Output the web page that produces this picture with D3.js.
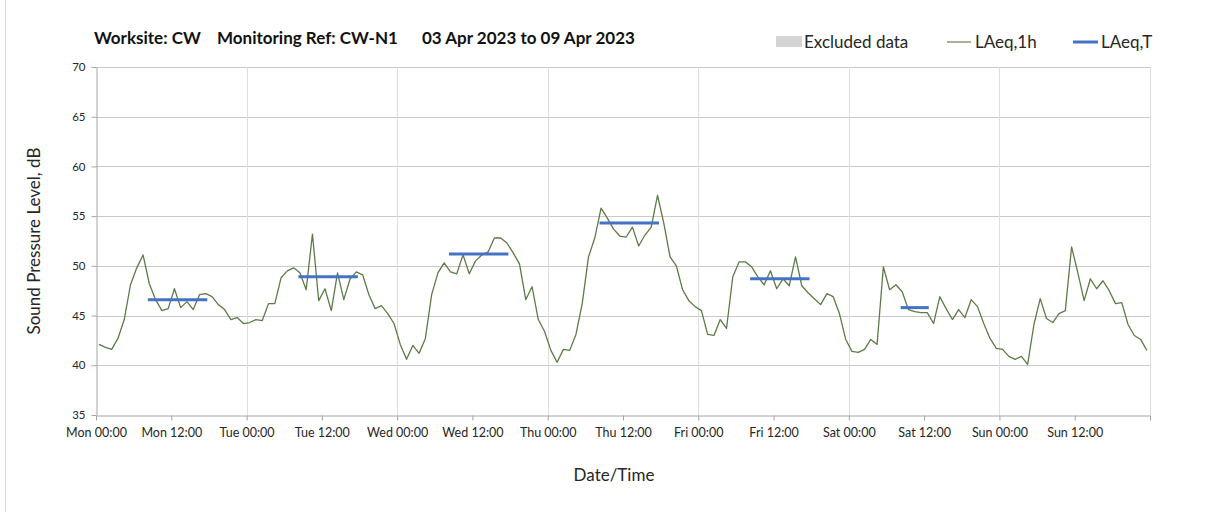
<!DOCTYPE html>
<html>
<head>
    <title></title>
    <script src="https://d3js.org/d3.v7.min.js"></script>
    <style type="text/css">
        html, body { margin: 0; padding: 0; background: #fff; }
        svg { display: block; font-family: Lato, "Open Sans", sans-serif; }
    </style>
</head>
<body>

    <svg id="main"></svg>

    <script>
      // settings
      const width  = 1208;
      const height = 512;
      const margin = {top: 67, right: 58, bottom: 97, left: 96};

      // data: hourly LAeq,1h from Mon 03 Apr 2023 00:00
      const startDate = new Date(2023, 3, 3, 0, 0);
      const endDate   = new Date(2023, 3, 10, 0, 0);
      const laeq1h = [
        42.1, 41.8, 41.6, 42.7, 44.6, 48.1, 49.8, 51.1, 48.2, 46.6, 45.5, 45.7,
        47.7, 45.8, 46.4, 45.6, 47.1, 47.2, 46.9, 46.1, 45.6, 44.6, 44.8, 44.2,
        44.3, 44.6, 44.5, 46.2, 46.2, 48.8, 49.5, 49.8, 49.3, 47.6, 53.2, 46.5,
        47.7, 45.5, 49.3, 46.6, 48.7, 49.4, 49.1, 47.1, 45.7, 46.0, 45.2, 44.2,
        42.1, 40.6, 42.0, 41.2, 42.7, 47.1, 49.3, 50.3, 49.4, 49.2, 51.1, 49.2,
        50.5, 51.1, 51.4, 52.8, 52.8, 52.3, 51.3, 50.2, 46.6, 47.9, 44.6, 43.4,
        41.5, 40.3, 41.6, 41.5, 43.1, 46.2, 50.9, 52.8, 55.8, 54.8, 53.7, 53.0,
        52.9, 53.9, 52.0, 53.1, 53.9, 57.1, 54.3, 50.9, 50.0, 47.6, 46.5, 45.9,
        45.5, 43.1, 43.0, 44.6, 43.7, 48.9, 50.4, 50.4, 49.9, 48.9, 48.1, 49.5,
        47.7, 48.7, 48.0, 50.9, 48.0, 47.3, 46.7, 46.1, 47.2, 46.9, 45.2, 42.6,
        41.4, 41.3, 41.6, 42.6, 42.1, 49.9, 47.6, 48.1, 47.4, 45.6, 45.4, 45.3,
        45.3, 44.2, 46.9, 45.7, 44.6, 45.6, 44.8, 46.6, 45.9, 44.2, 42.7, 41.7,
        41.6, 40.9, 40.6, 40.9, 40.1, 44.1, 46.7, 44.7, 44.3, 45.2, 45.5, 51.9,
        49.3, 46.5, 48.7, 47.7, 48.5, 47.5, 46.2, 46.3, 44.1, 43.0, 42.6, 41.5
      ];

      // LAeq,T periods (hour index of first and last hour)
      const laeqTStart  = [8, 32, 56, 80, 104, 128];
      const laeqTEnd    = [17, 41, 65, 89, 113, 132];
      const laeqTValues = [46.6, 48.9, 51.2, 54.3, 48.7, 45.8];

      const yTicks = [35, 40, 45, 50, 55, 60, 65, 70];

      const GREEN = "#5d7b48";
      const BLUE  = "#4472c4";
      const TEXT  = "#262626";

      const hourMs = 3600 * 1000;
      const at = h => new Date(startDate.getTime() + h * hourMs);

      // draw
      const svg = d3.select("#main")
        .attr("width", width)
        .attr("height", height);

      const x = d3.scaleTime()
        .domain([startDate, endDate])
        .range([margin.left, width - margin.right]);
      const y = d3.scaleLinear()
        .domain([35, 70])
        .range([height - margin.bottom, margin.top]);

      // frame line at left
      svg.append("line")
        .attr("x1", 5.5).attr("x2", 5.5)
        .attr("y1", 0).attr("y2", height)
        .attr("stroke", "#d9d9d9");

      // horizontal grid
      svg.append("g")
        .selectAll("line")
        .data(yTicks.slice(1))
        .join("line")
        .attr("x1", margin.left).attr("x2", width - margin.right)
        .attr("y1", d => Math.round(y(d)) + 0.5)
        .attr("y2", d => Math.round(y(d)) + 0.5)
        .attr("stroke", "#c9c9c9");

      // vertical grid at midnight
      const days = d3.timeDay.range(d3.timeDay.offset(startDate, 1), d3.timeDay.offset(endDate, 1));
      svg.append("g")
        .selectAll("line")
        .data(days)
        .join("line")
        .attr("x1", d => Math.round(x(d)) + 0.5)
        .attr("x2", d => Math.round(x(d)) + 0.5)
        .attr("y1", margin.top).attr("y2", y(35))
        .attr("stroke", "#dedede");

      // axes
      const xTicks = d3.timeHour.every(12).range(startDate, d3.timeHour.offset(endDate, 1));
      const xAxis = svg.append("g")
        .attr("transform", `translate(0,${Math.round(y(35)) + 0.5})`)
        .call(d3.axisBottom(x)
          .tickValues(xTicks)
          .tickSize(5)
          .tickSizeOuter(0)
          .tickFormat(d => d < endDate ? d3.timeFormat("%a %H:%M")(d) : ""));
      xAxis.select(".domain").attr("stroke", "#a6a6a6");
      xAxis.selectAll(".tick line").attr("stroke", "#a6a6a6");
      xAxis.selectAll(".tick text")
        .attr("fill", TEXT)
        .attr("font-size", 12.5)
        .attr("font-family", "Lato, sans-serif")
        .attr("dy", "1.05em");

      const yAxis = svg.append("g")
        .attr("transform", `translate(${margin.left + 0.5},0)`)
        .call(d3.axisLeft(y)
          .tickValues(yTicks)
          .tickSize(5)
          .tickSizeOuter(0));
      yAxis.select(".domain").attr("stroke", "#a6a6a6");
      yAxis.selectAll(".tick line").attr("stroke", "#a6a6a6");
      yAxis.selectAll(".tick text")
        .attr("fill", TEXT)
        .attr("font-size", 11.5)
        .attr("font-family", "Lato, sans-serif")
        .attr("x", -11);

      // LAeq,1h line
      const line = d3.line()
        .x((d, i) => x(at(i + 0.5)))
        .y(d => y(d));
      svg.append("path")
        .datum(laeq1h)
        .attr("fill", "none")
        .attr("stroke", GREEN)
        .attr("stroke-width", 1.3)
        .attr("stroke-linejoin", "round")
        .attr("d", line);

      // LAeq,T segments
      svg.append("g")
        .selectAll("line")
        .data(laeqTValues)
        .join("line")
        .attr("x1", (d, i) => x(at(laeqTStart[i] + 0.5)))
        .attr("x2", (d, i) => x(at(laeqTEnd[i] + 0.5)))
        .attr("y1", d => y(d))
        .attr("y2", d => y(d))
        .attr("stroke", BLUE)
        .attr("stroke-width", 3)
        .attr("stroke-linecap", "square");

      // title
      const title = svg.append("g")
        .attr("font-size", 17)
        .attr("font-weight", "bold")
        .attr("fill", "#111");
      title.append("text").attr("x", 94).attr("y", 44).text("Worksite: CW");
      title.append("text").attr("x", 217).attr("y", 44).text("Monitoring Ref: CW-N1");
      title.append("text").attr("x", 422).attr("y", 44).text("03 Apr 2023 to 09 Apr 2023");

      // legend
      const legend = svg.append("g")
        .attr("font-size", 17)
        .attr("fill", TEXT);
      legend.append("rect")
        .attr("x", 776).attr("y", 36).attr("width", 26).attr("height", 11)
        .attr("fill", "#d4d4d4");
      legend.append("text").attr("x", 804).attr("y", 48).text("Excluded data");
      legend.append("line")
        .attr("x1", 947).attr("x2", 971).attr("y1", 42).attr("y2", 42)
        .attr("stroke", "#8a9a72").attr("stroke-width", 1.5);
      legend.append("text").attr("x", 975).attr("y", 48).text("LAeq,1h");
      legend.append("line")
        .attr("x1", 1073).attr("x2", 1098).attr("y1", 42).attr("y2", 42)
        .attr("stroke", BLUE).attr("stroke-width", 3);
      legend.append("text").attr("x", 1101).attr("y", 48).text("LAeq,T");

      // axis titles
      svg.append("text")
        .attr("transform", `translate(40,${(y(35) + y(70)) / 2}) rotate(-90)`)
        .attr("text-anchor", "middle")
        .attr("font-size", 17)
        .attr("fill", TEXT)
        .text("Sound Pressure Level, dB");
      svg.append("text")
        .attr("x", 614).attr("y", 481)
        .attr("text-anchor", "middle")
        .attr("font-size", 17)
        .attr("fill", TEXT)
        .text("Date/Time");
    </script>

</body>
</html>
